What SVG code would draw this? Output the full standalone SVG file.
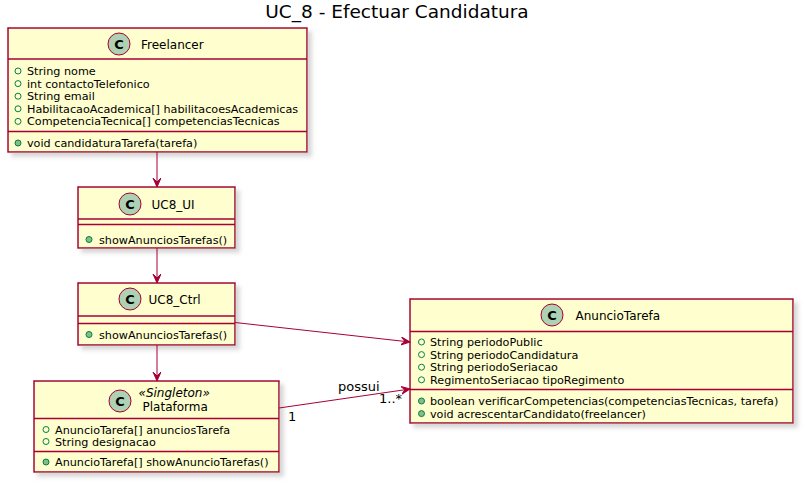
<svg xmlns="http://www.w3.org/2000/svg" width="806" height="485" viewBox="0 0 806 485">
<style>
text{font-family:"DejaVu Sans","Liberation Sans",sans-serif;fill:#000}
.box{fill:#FEFECE;stroke:#A80036;stroke-width:1.5}
.sep{stroke:#A80036;stroke-width:1.5}
.circ{fill:#ADD1B2;stroke:#A80036;stroke-width:1}
.cl{font-size:13px;font-weight:bold;text-anchor:middle}
.nm{font-size:12px}
.at{font-size:11.2px}
.ao{fill:none;stroke:#038048;stroke-width:1}
.mo{fill:#84BE84;stroke:#038048;stroke-width:1}
.edge{stroke:#A80036;stroke-width:1;fill:none}
.lbl{font-size:13px}
</style>
<defs>
<filter id="sh" x="-10%" y="-10%" width="130%" height="140%">
<feGaussianBlur in="SourceAlpha" stdDeviation="2"/>
<feOffset dx="4" dy="4" result="b"/>
<feColorMatrix in="b" type="matrix" values="0 0 0 0 0.6  0 0 0 0 0.6  0 0 0 0 0.6  0 0 0 0.8 0"/>
<feMerge><feMergeNode/><feMergeNode in="SourceGraphic"/></feMerge>
</filter>
<marker id="ah" markerUnits="userSpaceOnUse" markerWidth="10" markerHeight="10" refX="9" refY="4" orient="auto">
<path d="M0,0 L9,4 L0,8 L4,4 Z" fill="#A80036" stroke="#A80036" stroke-width="1"/>
</marker>
</defs>
<rect width="806" height="485" fill="#fff"/>
<text x="397" y="18" font-size="18.5" text-anchor="middle">UC_8 - Efectuar Candidatura</text>

<g id="Freelancer">
<rect class="box" x="8" y="28" width="299" height="124" filter="url(#sh)"/>
<circle class="circ" cx="119" cy="44" r="11"/>
<text class="cl" x="119" y="48.5">C</text>
<text class="nm" x="141" y="48.5">Freelancer</text>
<line class="sep" x1="8" y1="59" x2="307" y2="59"/>
<circle class="ao" cx="18" cy="71" r="3"/><text class="at" x="27" y="75">String nome</text>
<circle class="ao" cx="18" cy="83.6" r="3"/><text class="at" x="27" y="87.6">int contactoTelefonico</text>
<circle class="ao" cx="18" cy="96.2" r="3"/><text class="at" x="27" y="100.2">String email</text>
<circle class="ao" cx="18" cy="108.8" r="3"/><text class="at" x="27" y="112.8">HabilitacaoAcademica[] habilitacoesAcademicas</text>
<circle class="ao" cx="18" cy="121.4" r="3"/><text class="at" x="27" y="125.4">CompetenciaTecnica[] competenciasTecnicas</text>
<line class="sep" x1="8" y1="131.5" x2="307" y2="131.5"/>
<circle class="mo" cx="18" cy="143" r="3"/><text class="at" x="27" y="147">void candidaturaTarefa(tarefa)</text>
</g>

<g id="UC8_UI">
<rect class="box" x="78" y="187" width="157" height="61" filter="url(#sh)"/>
<circle class="circ" cx="130" cy="204" r="11"/>
<text class="cl" x="130" y="208.5">C</text>
<text class="nm" x="151.5" y="208.5">UC8_UI</text>
<line class="sep" x1="78" y1="219" x2="235" y2="219"/>
<line class="sep" x1="78" y1="224.5" x2="235" y2="224.5"/>
<circle class="mo" cx="89" cy="239.5" r="3"/><text class="at" x="99" y="243.5">showAnunciosTarefas()</text>
</g>

<g id="UC8_Ctrl">
<rect class="box" x="78" y="283" width="157" height="62" filter="url(#sh)"/>
<circle class="circ" cx="130" cy="299" r="11"/>
<text class="cl" x="130" y="303.5">C</text>
<text class="nm" x="148.5" y="303.5">UC8_Ctrl</text>
<line class="sep" x1="78" y1="316" x2="235" y2="316"/>
<line class="sep" x1="78" y1="323.5" x2="235" y2="323.5"/>
<circle class="mo" cx="89" cy="334.5" r="3"/><text class="at" x="99" y="338.5">showAnunciosTarefas()</text>
</g>

<g id="Plataforma">
<rect class="box" x="34" y="381" width="245" height="91" filter="url(#sh)"/>
<circle class="circ" cx="120" cy="401" r="11"/>
<text class="cl" x="120" y="405.5">C</text>
<text class="nm" x="138.5" y="396.5" font-style="italic">«Singleton»</text>
<text class="nm" x="142.5" y="410.5">Plataforma</text>
<line class="sep" x1="34" y1="418.5" x2="279" y2="418.5"/>
<circle class="ao" cx="46" cy="429.5" r="3"/><text class="at" x="55" y="433.5">AnuncioTarefa[] anunciosTarefa</text>
<circle class="ao" cx="46" cy="441.5" r="3"/><text class="at" x="55" y="445.5">String designacao</text>
<line class="sep" x1="34" y1="451.5" x2="279" y2="451.5"/>
<circle class="mo" cx="46" cy="462" r="3"/><text class="at" x="55" y="466">AnuncioTarefa[] showAnuncioTarefas()</text>
</g>

<g id="AnuncioTarefa">
<rect class="box" x="410" y="299" width="383" height="124" filter="url(#sh)"/>
<circle class="circ" cx="552" cy="315" r="11"/>
<text class="cl" x="552" y="319.5">C</text>
<text class="nm" x="575.5" y="319.5">AnuncioTarefa</text>
<line class="sep" x1="410" y1="331.5" x2="793" y2="331.5"/>
<circle class="ao" cx="421.5" cy="342" r="3"/><text class="at" x="430" y="346">String periodoPublic</text>
<circle class="ao" cx="421.5" cy="354.6" r="3"/><text class="at" x="430" y="358.6">String periodoCandidatura</text>
<circle class="ao" cx="421.5" cy="367.2" r="3"/><text class="at" x="430" y="371.2">String periodoSeriacao</text>
<circle class="ao" cx="421.5" cy="379.8" r="3"/><text class="at" x="430" y="383.8">RegimentoSeriacao tipoRegimento</text>
<line class="sep" x1="410" y1="389.5" x2="793" y2="389.5"/>
<circle class="mo" cx="421.5" cy="401" r="3"/><text class="at" x="430" y="405">boolean verificarCompetencias(competenciasTecnicas, tarefa)</text>
<circle class="mo" cx="421.5" cy="413.6" r="3"/><text class="at" x="430" y="417.6">void acrescentarCandidato(freelancer)</text>
</g>

<g id="connectors">
<line class="edge" x1="157" y1="152" x2="157" y2="187" marker-end="url(#ah)"/>
<line class="edge" x1="157" y1="248" x2="157" y2="283" marker-end="url(#ah)"/>
<line class="edge" x1="157" y1="345" x2="157" y2="381" marker-end="url(#ah)"/>
<line class="edge" x1="235" y1="322.5" x2="410" y2="342" marker-end="url(#ah)"/>
<line class="edge" x1="279" y1="408" x2="410" y2="389" marker-end="url(#ah)"/>
<text class="lbl" x="338" y="390.5">possui</text>
<text class="lbl" x="288" y="420.5">1</text>
<text class="lbl" x="379" y="403">1..*</text>
</g>
</svg>
